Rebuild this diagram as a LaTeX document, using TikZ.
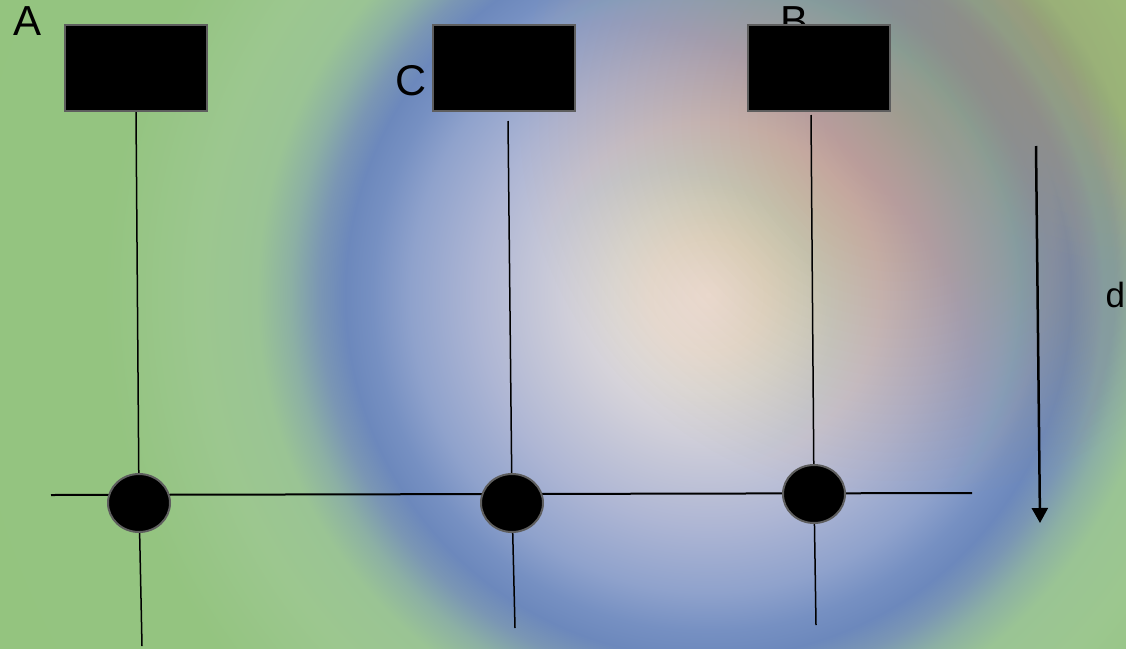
\documentclass[tikz,border=0pt]{standalone}
\usepackage{fontspec}
\setmainfont{Liberation Sans}
\usetikzlibrary{arrows.meta,shapes.geometric}
\definecolor{s0}{HTML}{F6EFE8}
\definecolor{s1}{HTML}{ECE4DC}
\definecolor{s2}{HTML}{CFCED9}
\definecolor{s3}{HTML}{AEB6D4}
\definecolor{s4}{HTML}{8FA2CC}
\definecolor{s5}{HTML}{7690C2}
\definecolor{s6}{HTML}{6C88BC}
\definecolor{s7}{HTML}{7A96B4}
\definecolor{s8}{HTML}{8CB0A4}
\definecolor{s9}{HTML}{9AC494}
\definecolor{s10}{HTML}{9CC78F}
\definecolor{s11}{HTML}{94C480}
\definecolor{s12}{HTML}{93C47D}
\definecolor{warm}{HTML}{C49C64}
\definecolor{corner}{HTML}{C8C078}
\definecolor{boxgray}{HTML}{5E5E5E}
\pgfdeclareradialshading{bgrad}{\pgfpointorigin}{color(0bp)=(s0); color(2.03bp)=(s1); color(5.07bp)=(s2); color(8.11bp)=(s3); color(10.48bp)=(s4); color(11.83bp)=(s5); color(12.78bp)=(s6); color(13.69bp)=(s7); color(14.7bp)=(s8); color(15.89bp)=(s9); color(17.91bp)=(s10); color(21.29bp)=(s11); color(50bp)=(s12)}
\pgfdeclarelayer{back}
\pgfdeclarelayer{wires}
\pgfsetlayers{back,wires,main}
\tikzset{
  box/.style={draw=boxgray, fill=black, line width=2pt, minimum width=142pt, minimum height=86pt, inner sep=0pt},
  dot/.style={ellipse, draw=boxgray, fill=black, line width=2pt, minimum width=62pt, minimum height=58pt, inner sep=0pt},
  wire/.style={black, line width=1.5pt},
  hwire/.style={black, line width=2pt},
  lbl/.style={inner sep=0pt, anchor=base west, text=black},
  arr/.style={black, line width=2.5pt, -{Triangle[width=16pt,length=15pt]}}
}
\begin{document}
\begin{tikzpicture}[x=1pt,y=-1pt]
\useasboundingbox (0,0) rectangle (1126,648);
\begin{pgfonlayer}{back}
  \begin{scope}
    \clip (0,0) rectangle (1126,648);
    \shade[shading=bgrad] (-2,-415) rectangle (1418,1005);
    \foreach \i in {1,...,40}
      \fill[warm, opacity=0.014] (900,120) circle ({9.5*\i});
    \foreach \i in {1,...,20}
      \fill[corner, opacity=0.02] (1126,0) circle ({13*\i});
  \end{scope}
\end{pgfonlayer}
% labels (B behind its box)
\node[lbl, font=\fontsize{42}{42}\selectfont] (la) at (13,35) {A};
\node[lbl, font=\fontsize{43}{43}\selectfont] (lc) at (395,95) {C};
\node[lbl, font=\fontsize{42}{42}\selectfont] (lb) at (780,35) {B};
\node[lbl, font=\fontsize{35}{35}\selectfont] (ld) at (1105.5,307.5) {d};
% boxes
\node[box] (ra) at (136,68) {};
\node[box] (rc) at (504,68) {};
\node[box] (rb) at (819,68) {};
% junction dots
\node[dot] (c1) at (139,503) {};
\node[dot] (c2) at (512,503) {};
\node[dot] (c3) at (814,494) {};
% free ends
\coordinate (t2) at (508,121);
\coordinate (t3) at (811,115);
\coordinate (e1) at (142,646);
\coordinate (e2) at (515,628);
\coordinate (e3) at (816,625);
\coordinate (hl) at (51,495);
\coordinate (hr) at (972,493);
\coordinate (as) at (1036,146);
\coordinate (ae) at (1040,523);
\begin{pgfonlayer}{wires}
  \draw[wire] (ra.south) -- (c1) -- (e1);
  \draw[wire] (t2) -- (c2) -- (e2);
  \draw[wire] (t3) -- (c3) -- (e3);
  \draw[hwire] (hl) -- (hr);
\end{pgfonlayer}
\draw[arr] (as) -- (ae);
\end{tikzpicture}
\end{document}
